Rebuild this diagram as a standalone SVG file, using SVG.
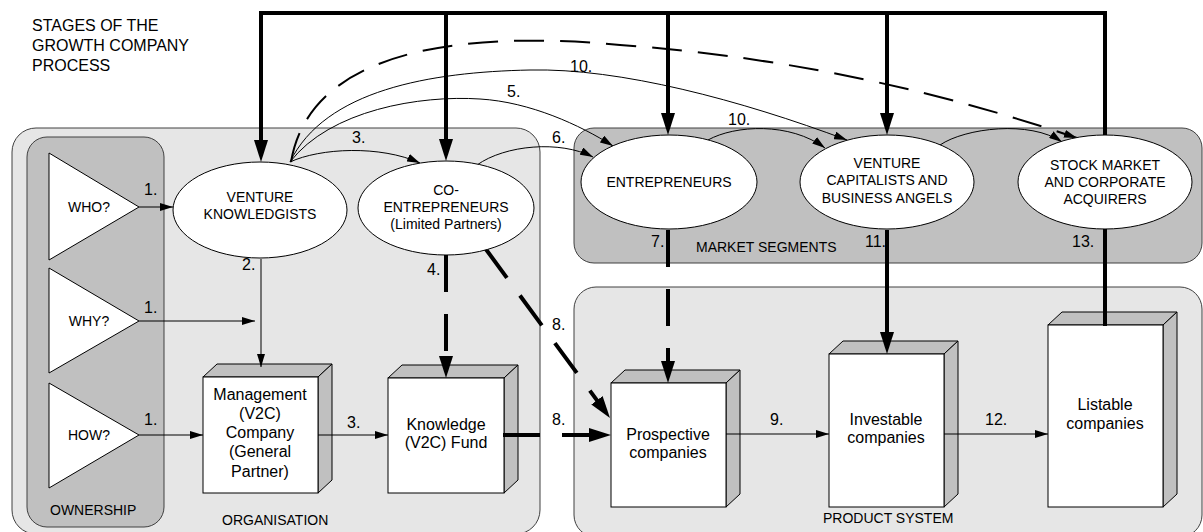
<svg xmlns="http://www.w3.org/2000/svg" width="1203" height="532" viewBox="0 0 1203 532">
<style>
text{font-family:"Liberation Sans",Arial,sans-serif;fill:#000}
.t16{font-size:16px}
.t14{font-size:14px}
.c{text-anchor:middle}
.light{fill:#e6e6e6;stroke:#404040;stroke-width:1}
.dark{fill:#c0c0c0;stroke:#404040;stroke-width:1}
.ell{fill:#fff;stroke:#000;stroke-width:1}
.front{fill:#fff;stroke:#000;stroke-width:1}
.face{fill:#c0c0c0;stroke:#000;stroke-width:1;stroke-linejoin:round}
.tri{fill:#fff;stroke:#000;stroke-width:1}
.thin{fill:none;stroke:#000;stroke-width:1}
.thick{fill:none;stroke:#000;stroke-width:4}
.tdash{stroke-dasharray:37 22}
.ldash{fill:none;stroke:#000;stroke-width:2;stroke-dasharray:30 16}
</style>
<defs>
<marker id="a" markerUnits="userSpaceOnUse" markerWidth="13" markerHeight="8" refX="13" refY="4" orient="auto"><path d="M0,0 L13,4 L0,8 z" fill="#000"/></marker>
<marker id="A" markerUnits="userSpaceOnUse" markerWidth="22" markerHeight="14" refX="6" refY="7" orient="auto"><path d="M0,0 L22,7 L0,14 z" fill="#000"/></marker>
</defs>
<rect width="1203" height="532" fill="#fff"/>
<g id="title"><text class="t16" x="32" y="31">STAGES OF THE</text><text class="t16" x="32" y="51">GROWTH COMPANY</text><text class="t16" x="32" y="71">PROCESS</text></g>

<g id="organisation"><rect class="light" x="12" y="128" width="528" height="406" rx="24"/><text class="t14" x="222" y="525">ORGANISATION</text></g>
<g id="ownership"><rect class="dark" x="27" y="137" width="137" height="390" rx="20"/><text class="t14" x="50" y="515">OWNERSHIP</text></g>
<g id="market-segments"><rect class="dark" x="574" y="128" width="628" height="135" rx="20"/><text class="t14" x="696" y="252">MARKET SEGMENTS</text></g>
<g id="product-system"><rect class="light" x="574" y="287" width="628" height="250" rx="22"/><text class="t14" x="823" y="523">PRODUCT SYSTEM</text></g>

<g id="who"><polygon class="tri" points="49,153 139,207 49,260"/><text class="t14 c" x="89" y="212">WHO?</text></g>
<g id="why"><polygon class="tri" points="49,268 139,321 49,373"/><text class="t14 c" x="89" y="326">WHY?</text></g>
<g id="how"><polygon class="tri" points="49,383 139,435 49,488"/><text class="t14 c" x="89" y="440">HOW?</text></g>

<g id="management-company"><polygon class="face" points="203,377 217,364 332,364 318,377"/><polygon class="face" points="318,377 332,364 332,480 318,493"/><rect class="front" x="203" y="377" width="115" height="116"/><text class="t16 c" x="260" y="400">Management</text><text class="t16 c" x="260" y="419">(V2C)</text><text class="t16 c" x="260" y="438">Company</text><text class="t16 c" x="260" y="457">(General</text><text class="t16 c" x="260" y="477">Partner)</text></g>
<g id="knowledge-fund"><polygon class="face" points="388,378 402,365 518,365 504,378"/><polygon class="face" points="504,378 518,365 518,480 504,493"/><rect class="front" x="388" y="378" width="116" height="115"/><text class="t16 c" x="446" y="430">Knowledge</text><text class="t16 c" x="446" y="448">(V2C) Fund</text></g>
<g id="prospective-companies"><polygon class="face" points="611,383 625,370 740,370 726,383"/><polygon class="face" points="726,383 740,370 740,494 726,507"/><rect class="front" x="611" y="383" width="115" height="124"/><text class="t16 c" x="668" y="440">Prospective</text><text class="t16 c" x="668" y="458">companies</text></g>
<g id="investable-companies"><polygon class="face" points="829,354 843,341 958,341 944,354"/><polygon class="face" points="944,354 958,341 958,494 944,507"/><rect class="front" x="829" y="354" width="115" height="153"/><text class="t16 c" x="886" y="425">Investable</text><text class="t16 c" x="886" y="443">companies</text></g>
<g id="listable-companies"><polygon class="face" points="1048,325 1062,312 1177,312 1163,325"/><polygon class="face" points="1163,325 1177,312 1177,494 1163,507"/><rect class="front" x="1048" y="325" width="115" height="182"/><text class="t16 c" x="1105" y="410">Listable</text><text class="t16 c" x="1105" y="429">companies</text></g>

<g id="connectors">
<path class="thick" d="M1105,326 V13 H261 V146" marker-end="url(#A)"/>
<path class="thick" d="M446,13 V145" marker-end="url(#A)"/>
<path class="thick" d="M668,13 V119" marker-end="url(#A)"/>
<path class="thick" d="M887,13 V119" marker-end="url(#A)"/>
<path class="thick" d="M887,230 V338" marker-end="url(#A)"/>
<path class="thick tdash" d="M446,255 V362" marker-end="url(#A)"/>
<path class="thick tdash" d="M668,230 V367" marker-end="url(#A)"/>
<path class="thick tdash" d="M485,248 L600.5,405.1" marker-end="url(#A)"/>
<path class="thick tdash" d="M503,435 H595" marker-end="url(#A)"/>
<path class="thin" d="M139,207 H173" marker-end="url(#a)"/>
<path class="thin" d="M139,321 H255" marker-end="url(#a)"/>
<path class="thin" d="M139,435 H203" marker-end="url(#a)"/>
<path class="thin" d="M261,259 V367" marker-end="url(#a)"/>
<path class="thin" d="M318,435 H388" marker-end="url(#a)"/>
<path class="thin" d="M726,434 H829" marker-end="url(#a)"/>
<path class="thin" d="M944,434 H1048" marker-end="url(#a)"/>
<path class="thin" d="M290,162 C320,148 380,145 420,163" marker-end="url(#a)"/>
<path class="thin" d="M477,165 C505,145 560,140 593,157" marker-end="url(#a)"/>
<path class="thin" d="M290,162 C330,110 420,95 480,99 C530,102 580,125 613,146" marker-end="url(#a)"/>
<path class="thin" d="M290,162 C325,90 430,72 530,70 C620,68 740,100 847,140" marker-end="url(#a)"/>
<path class="thin" d="M708,140 C735,125 790,122 825,148" marker-end="url(#a)"/>
<path class="thin" d="M940,145 C965,128 1030,120 1062,142" marker-end="url(#a)"/>
<path class="ldash" d="M291,162 C310,50 460,30 620,45 C800,58 950,95 1077,138" marker-end="url(#a)"/>
</g>

<g id="venture-knowledgists"><ellipse class="ell" cx="260" cy="210" rx="87" ry="48"/><text class="t14 c" x="260" y="202">VENTURE</text><text class="t14 c" x="260" y="219">KNOWLEDGISTS</text></g>
<g id="co-entrepreneurs"><ellipse class="ell" cx="446" cy="208" rx="88" ry="47"/><text class="t14 c" x="446" y="195">CO-</text><text class="t14 c" x="446" y="212">ENTREPRENEURS</text><text class="t14 c" x="446" y="229">(Limited Partners)</text></g>
<g id="entrepreneurs"><ellipse class="ell" cx="669" cy="182" rx="88" ry="47"/><text class="t14 c" x="669" y="187">ENTREPRENEURS</text></g>
<g id="venture-capitalists"><ellipse class="ell" cx="887" cy="182" rx="87" ry="47"/><text class="t14 c" x="887" y="168">VENTURE</text><text class="t14 c" x="887" y="185">CAPITALISTS AND</text><text class="t14 c" x="887" y="203">BUSINESS ANGELS</text></g>
<g id="stock-market"><ellipse class="ell" cx="1105" cy="182" rx="87" ry="47"/><text class="t14 c" x="1105" y="170">STOCK MARKET</text><text class="t14 c" x="1105" y="187">AND CORPORATE</text><text class="t14 c" x="1105" y="204">ACQUIRERS</text></g>

<g id="connector-labels">
<text class="t16" x="144" y="195">1.</text>
<text class="t16" x="144" y="313">1.</text>
<text class="t16" x="144" y="425">1.</text>
<text class="t16" x="242" y="270">2.</text>
<text class="t16" x="352" y="143">3.</text>
<text class="t16" x="347" y="428">3.</text>
<text class="t16" x="427" y="275">4.</text>
<text class="t16" x="507" y="97">5.</text>
<text class="t16" x="552" y="143">6.</text>
<text class="t16" x="651" y="247">7.</text>
<text class="t16" x="552" y="330">8.</text>
<text class="t16" x="552" y="425">8.</text>
<text class="t16" x="770" y="425">9.</text>
<text class="t16" x="570" y="72">10.</text>
<text class="t16" x="728" y="125">10.</text>
<text class="t16" x="865" y="247">11.</text>
<text class="t16" x="985" y="425">12.</text>
<text class="t16" x="1072" y="247">13.</text>
</g>
</svg>
